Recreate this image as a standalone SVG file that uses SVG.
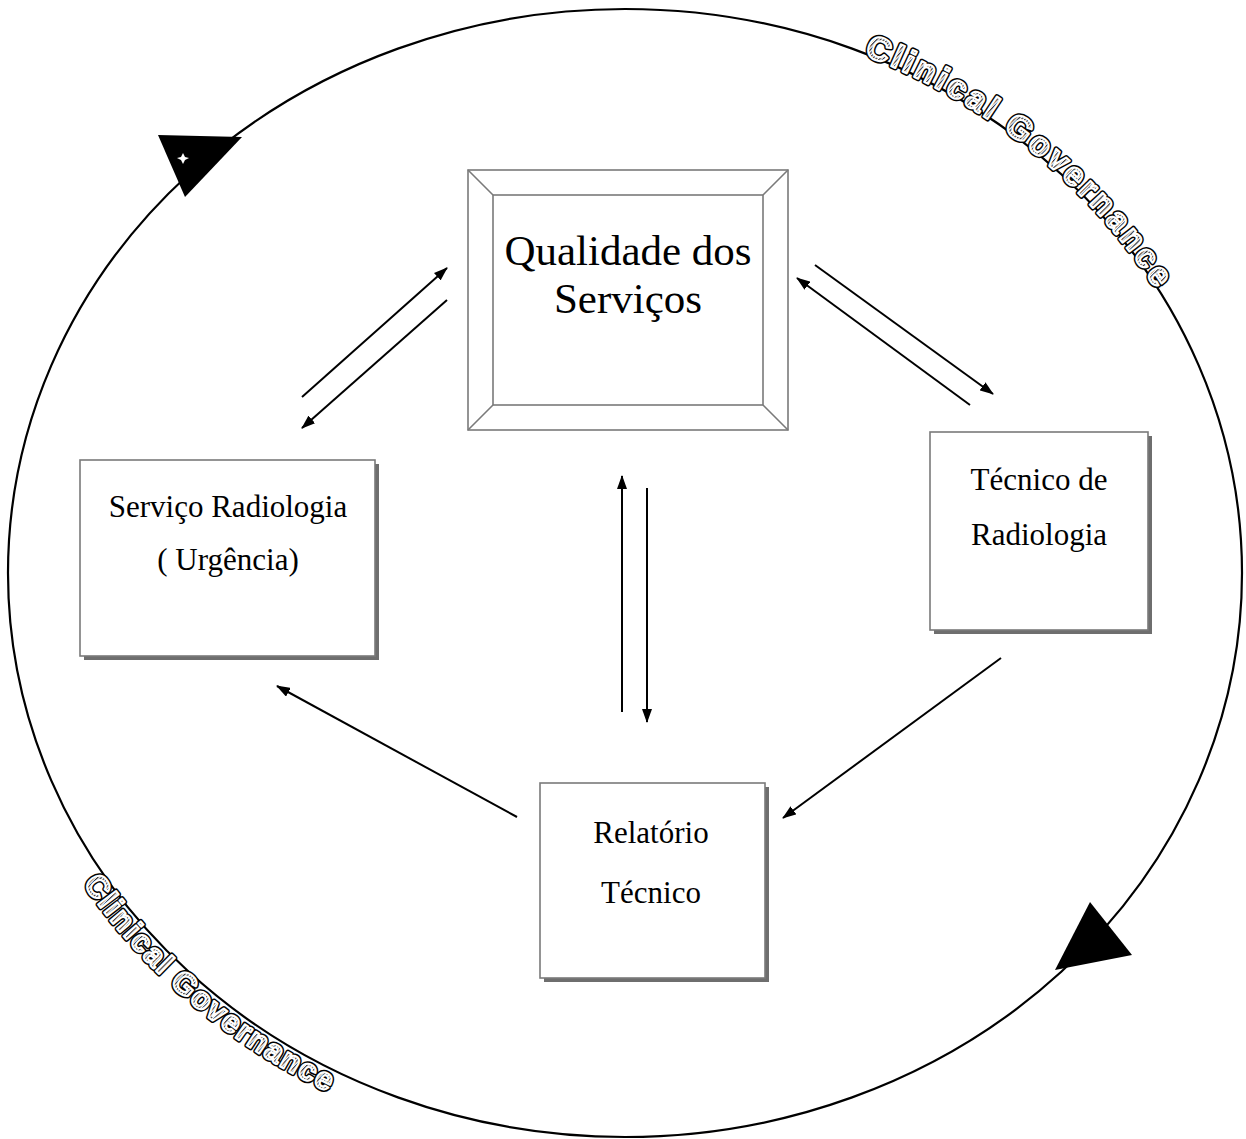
<svg xmlns="http://www.w3.org/2000/svg" xmlns:xlink="http://www.w3.org/1999/xlink" width="1246" height="1139" viewBox="0 0 1246 1139">
  <style>
    .label { font-family: "Liberation Serif", "Times New Roman", serif; fill: #000; text-anchor: middle; }
    .box { fill: #fff; stroke: #7a7a7a; stroke-width: 1.6; }
    .shadow { fill: #6e6e6e; }
    .frame { fill: none; stroke: #7a7a7a; stroke-width: 1.6; }
    .conn { stroke: #000; stroke-width: 2; fill: none; marker-end: url(#head); }
    .cg { font-family: "Liberation Sans", Arial, sans-serif; font-weight: bold; }
    .cg-outline { fill: none; stroke: #000; stroke-width: 5; stroke-linejoin: round; }
    .cg-fill { fill: url(#hatch); stroke: #fff; stroke-width: 2; stroke-linejoin: round; }
  </style>
  <defs>
    <marker id="head" viewBox="0 0 14 10" refX="13" refY="5" markerWidth="14" markerHeight="10" markerUnits="userSpaceOnUse" orient="auto">
      <path d="M0,0 L14,5 L0,10 Z" fill="#000"/>
    </marker>
    <pattern id="hatch" width="2.6" height="2.6" patternUnits="userSpaceOnUse" patternTransform="rotate(45)">
      <rect width="2.6" height="2.6" fill="#fff"/>
      <line x1="0.6" y1="0" x2="0.6" y2="2.6" stroke="#333" stroke-width="1.3"/>
    </pattern>
    <!-- baseline paths for the curved titles -->
    <path id="arcTop" d="M 625,11 A 615 562 0 0 1 1240,573"/>
    <path id="arcBottom" d="M -14,573 A 639 586 0 0 0 625,1159"/>
    <text id="cgTop" class="cg" font-size="33" letter-spacing="3.5"><textPath xlink:href="#arcTop" startOffset="244">Clinical Governance</textPath></text>
    <text id="cgBottom" class="cg" font-size="31" letter-spacing="1.5"><textPath xlink:href="#arcBottom" startOffset="330">Clinical Governance</textPath></text>
  </defs>

  <!-- outer governance cycle -->
  <g id="cycle">
    <ellipse cx="625" cy="573" rx="617" ry="564" fill="none" stroke="#000" stroke-width="2.2"/>
    <polygon points="158,135 242,137 185,197" fill="#000"/>
    <path d="M183,153 L185,157 L189,158 L185,160 L183,164 L181,160 L177,158 L181,157 Z" fill="#fff"/>
    <polygon points="1090,902 1132,955 1055,970" fill="#000"/>
  </g>

  <g id="title-top">
    <use xlink:href="#cgTop" class="cg-outline"/>
    <use xlink:href="#cgTop" class="cg-fill"/>
  </g>
  <g id="title-bottom">
    <use xlink:href="#cgBottom" class="cg-outline"/>
    <use xlink:href="#cgBottom" class="cg-fill"/>
  </g>

  <!-- central bevelled frame -->
  <g id="qualidade">
    <rect class="box" x="468" y="170" width="320" height="260"/>
    <rect class="frame" x="493" y="195" width="270" height="210"/>
    <path class="frame" d="M468,170 L493,195 M788,170 L763,195 M468,430 L493,405 M788,430 L763,405"/>
    <text class="label" font-size="43" x="628" y="265">Qualidade dos</text>
    <text class="label" font-size="43" x="628" y="313">Serviços</text>
  </g>

  <g id="servico">
    <rect class="shadow" x="84" y="464" width="295" height="196"/>
    <rect class="box" x="80" y="460" width="295" height="196"/>
    <text class="label" font-size="31" x="228" y="517">Serviço Radiologia</text>
    <text class="label" font-size="31" x="228" y="570">( Urgência)</text>
  </g>

  <g id="tecnico">
    <rect class="shadow" x="934" y="436" width="218" height="198"/>
    <rect class="box" x="930" y="432" width="218" height="198"/>
    <text class="label" font-size="31" x="1039" y="490">Técnico de</text>
    <text class="label" font-size="31" x="1039" y="545">Radiologia</text>
  </g>

  <g id="relatorio">
    <rect class="shadow" x="544" y="787" width="225" height="195"/>
    <rect class="box" x="540" y="783" width="225" height="195"/>
    <text class="label" font-size="31" x="651" y="843">Relatório</text>
    <text class="label" font-size="31" x="651" y="903">Técnico</text>
  </g>

  <!-- connectors -->
  <g id="connectors">
    <line class="conn" x1="302" y1="397" x2="447" y2="268"/>
    <line class="conn" x1="447" y1="300" x2="302" y2="428"/>
    <line class="conn" x1="815" y1="265" x2="993" y2="394"/>
    <line class="conn" x1="970" y1="405" x2="797" y2="278"/>
    <line class="conn" x1="622" y1="712" x2="622" y2="476"/>
    <line class="conn" x1="647" y1="488" x2="647" y2="722"/>
    <line class="conn" x1="1001" y1="658" x2="783" y2="818"/>
    <line class="conn" x1="517" y1="817" x2="277" y2="686"/>
  </g>
</svg>
